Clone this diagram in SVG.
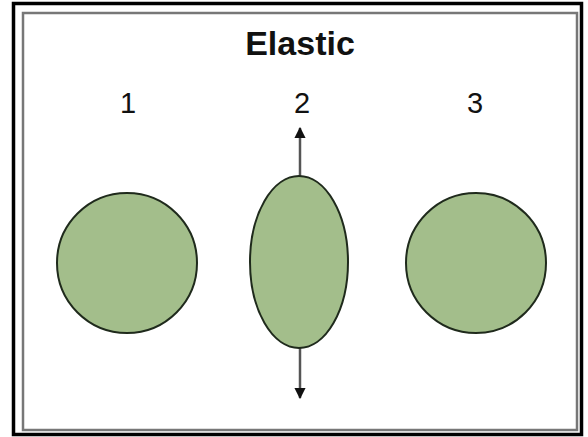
<svg xmlns="http://www.w3.org/2000/svg" width="588" height="437" viewBox="0 0 588 437">
<style>
.ball{fill:#a3be8b;stroke:#1f2a1c;stroke-width:2}
.lbl{font-family:"Liberation Sans",Arial,sans-serif;fill:#111;text-anchor:middle}
.arr{stroke:#555;stroke-width:2.5;fill:none}
</style>
<defs>
<marker id="ah" viewBox="0 0 10 10" refX="9" refY="5" markerWidth="4.5" markerHeight="4.5" orient="auto" markerUnits="strokeWidth">
<path d="M0,0 L10,5 L0,10 Z" fill="#111"/>
</marker>
</defs>
<rect x="0" y="0" width="588" height="437" fill="#fff"/>
<rect x="13.5" y="3.5" width="568" height="431" fill="none" stroke="#000" stroke-width="3.5"/>
<rect x="23" y="13" width="554" height="417" fill="none" stroke="#777" stroke-width="2.5"/>
<text class="lbl" x="300" y="55" font-size="34" font-weight="bold">Elastic</text>
<text class="lbl" x="128" y="113" font-size="29">1</text>
<text class="lbl" x="302" y="113" font-size="29">2</text>
<text class="lbl" x="475" y="113" font-size="29">3</text>
<g id="connectors">
<line class="arr" x1="300" y1="176" x2="300" y2="128" marker-end="url(#ah)"/>
<line class="arr" x1="300" y1="348" x2="300" y2="398" marker-end="url(#ah)"/>
</g>
<g id="ball1"><circle class="ball" cx="127" cy="263" r="70"/></g>
<g id="ball2"><ellipse class="ball" cx="299" cy="262" rx="49" ry="86"/></g>
<g id="ball3"><circle class="ball" cx="476" cy="263" r="70"/></g>
</svg>
